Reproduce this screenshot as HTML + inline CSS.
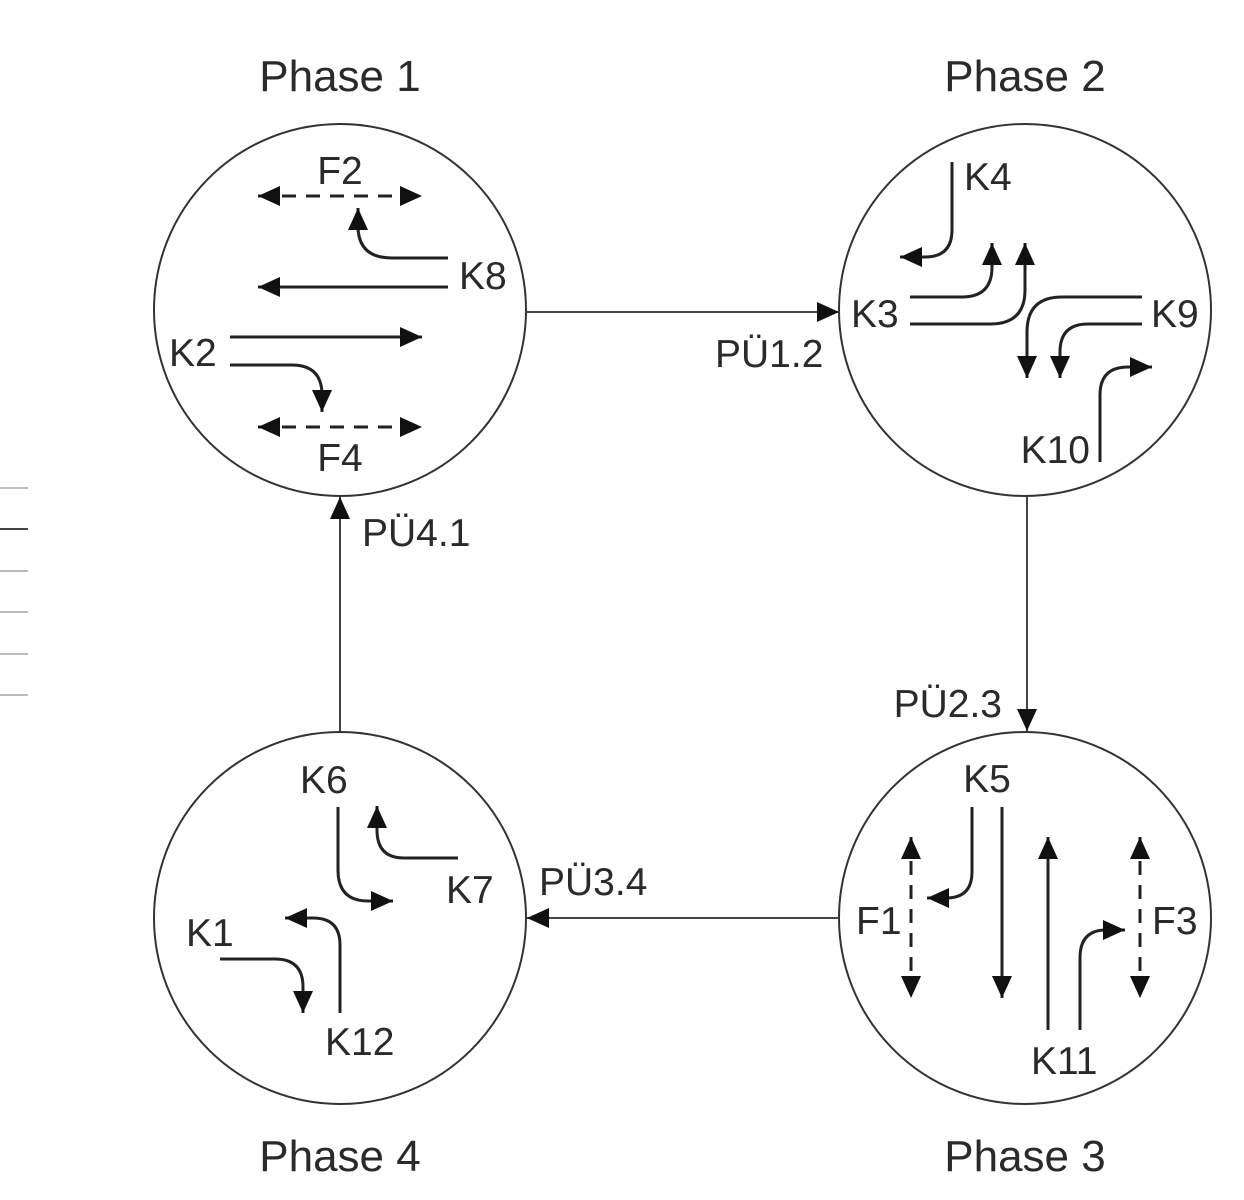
<!DOCTYPE html>
<html><head><meta charset="utf-8"><style>
html,body{margin:0;padding:0;background:#fff;}
svg{display:block;}
text{font-family:"Liberation Sans",sans-serif;fill:#2a2a2a;}
.lbl{font-size:39px;}
.ttl{font-size:44px;text-anchor:middle;}
.a{fill:none;stroke:#222;stroke-width:3;marker-end:url(#ah);}
.d{fill:none;stroke:#222;stroke-width:3;stroke-dasharray:14,10;marker-end:url(#ah);marker-start:url(#ah);}
.c{fill:none;stroke:#333;stroke-width:2;}
.t{fill:none;stroke:#444;stroke-width:2;marker-end:url(#ah);}
</style></head><body>
<svg width="1244" height="1200" viewBox="0 0 1244 1200">
<defs>
<marker id="ah" markerUnits="userSpaceOnUse" markerWidth="24" markerHeight="22" refX="22" refY="10" orient="auto-start-reverse"><path d="M0,0 L22,10 L0,20 z" fill="#111"/></marker>
</defs>
<g stroke="#bbb" stroke-width="2">
<line x1="0" y1="488" x2="28" y2="488"/><line x1="0" y1="529" x2="28" y2="529" stroke="#444"/><line x1="0" y1="571" x2="28" y2="571"/><line x1="0" y1="612" x2="28" y2="612"/><line x1="0" y1="654" x2="28" y2="654"/><line x1="0" y1="695" x2="28" y2="695"/>
</g>

<g>
<text class="ttl" x="340" y="91">Phase 1</text>
<circle class="c" cx="340" cy="310" r="186"/>
<path class="d" d="M258,196 H422"/>
<text class="lbl" x="340" y="184" text-anchor="middle">F2</text>
<path class="a" d="M448,258 H392 Q358,258 358,226 V208"/>
<path class="a" d="M448,287 H258"/>
<text class="lbl" x="459" y="289">K8</text>
<path class="a" d="M230,337 H422"/>
<text class="lbl" x="169" y="366">K2</text>
<path class="a" d="M230,365 H292 Q322,365 322,395 V412"/>
<path class="d" d="M258,427 H422"/>
<text class="lbl" x="340" y="471" text-anchor="middle">F4</text>
</g>

<g>
<text class="ttl" x="1025" y="91">Phase 2</text>
<circle class="c" cx="1025" cy="310" r="186"/>
<path class="a" d="M952,162 V230 Q952,257 925,257 H900"/>
<text class="lbl" x="964" y="190">K4</text>
<path class="a" d="M910,297 H962 Q992,297 992,267 V243"/>
<path class="a" d="M910,324 H990 Q1025,324 1025,290 V243"/>
<text class="lbl" x="851" y="327">K3</text>
<path class="a" d="M1142,297 H1062 Q1027,297 1027,332 V378"/>
<path class="a" d="M1142,324 H1088 Q1060,324 1060,352 V378"/>
<text class="lbl" x="1151" y="327">K9</text>
<path class="a" d="M1100,462 V395 Q1100,367 1128,367 H1152"/>
<text class="lbl" x="1090" y="463" text-anchor="end">K10</text>
</g>

<g>
<text class="ttl" x="1025" y="1171">Phase 3</text>
<circle class="c" cx="1025" cy="918" r="186"/>
<text class="lbl" x="987" y="792" text-anchor="middle">K5</text>
<path class="a" d="M972,807 V872 Q972,898 946,898 H927"/>
<path class="a" d="M1002,807 V998"/>
<path class="d" d="M911,837 V998"/>
<text class="lbl" x="856" y="934">F1</text>
<path class="a" d="M1048,1030 V837"/>
<path class="a" d="M1080,1030 V958 Q1080,930 1106,930 H1125"/>
<path class="d" d="M1140,837 V998"/>
<text class="lbl" x="1152" y="934">F3</text>
<text class="lbl" x="1031" y="1074">K11</text>
</g>

<g>
<text class="ttl" x="340" y="1171">Phase 4</text>
<circle class="c" cx="340" cy="918" r="186"/>
<text class="lbl" x="300" y="793">K6</text>
<path class="a" d="M338,807 V870 Q338,901 368,901 H393"/>
<path class="a" d="M458,858 H404 Q377,858 377,830 V806"/>
<text class="lbl" x="446" y="903">K7</text>
<path class="a" d="M340,1013 V945 Q340,918 313,918 H285"/>
<path class="a" d="M220,959 H275 Q303,959 303,987 V1013"/>
<text class="lbl" x="186" y="946">K1</text>
<text class="lbl" x="325" y="1055">K12</text>
</g>

<g>
<path class="t" d="M527,312 H839"/>
<text class="lbl" x="715" y="367">PÜ1.2</text>
<path class="t" d="M1027,497 V731"/>
<text class="lbl" x="1002" y="717" text-anchor="end">PÜ2.3</text>
<path class="t" d="M839,918 H527"/>
<text class="lbl" x="539" y="895">PÜ3.4</text>
<path class="t" d="M340,731 V497"/>
<text class="lbl" x="362" y="546">PÜ4.1</text>
</g>
</svg>
</body></html>
